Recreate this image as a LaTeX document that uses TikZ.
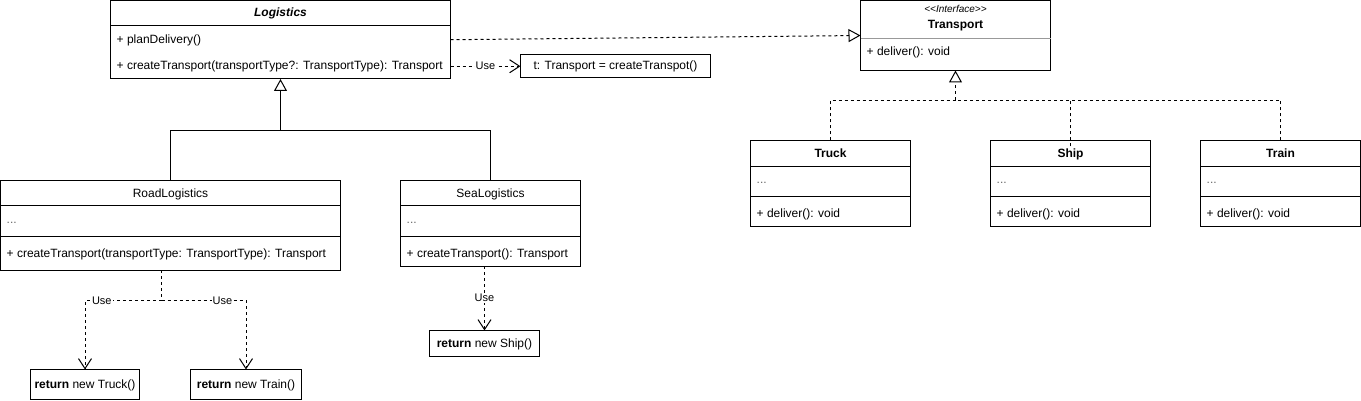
\documentclass[tikz,border=0pt]{standalone}
\usepackage{fontspec}
\setmainfont{Liberation Sans}
\usetikzlibrary{arrows.meta,calc}
\begin{document}
\begin{tikzpicture}[x=1pt,y=-1pt,
  cls/.style={draw, line width=1pt, inner sep=0pt, outer sep=0pt, anchor=north west},
  mem/.style={inner sep=0pt, anchor=base west, font=\fontsize{12}{14}\selectfont},
  ttl/.style={inner sep=0pt, anchor=base, font=\fontsize{12}{14}\selectfont},
  sep/.style={line width=1pt},
  dsh/.style={line width=1pt, dash pattern=on 3pt off 3pt},
  inh/.style={line width=1pt, -{Triangle[open, length=12pt, width=13pt]}},
  real/.style={dsh, -{Triangle[open, length=12pt, width=13pt]}},
  usearr/.style={dsh, -{Straight Barb[length=10pt, width=13pt]}},
  lbl/.style={fill=white, inner sep=1pt, font=\fontsize{11}{13}\selectfont},
  dots/.style={mem, text=black!60}
]
\useasboundingbox (0,0) rectangle (1361,401);

% ---- Logistics
\node[cls, minimum width=340pt, minimum height=78.5pt] (log) at (110.5,0.5) {};
\draw[sep] (log.west |- 0,26) -- (log.east |- 0,26);
\node[ttl, font=\fontsize{12}{14}\selectfont\bfseries\itshape] (logt) at (280.5,17) {Logistics};
\node[mem] (logm1) at (116.5,44) {+ planDelivery()};
\node[mem] (logm2) at (116.5,70) {+ createTransport(transportType?: TransportType): Transport};

% ---- Transport interface
\node[cls, minimum width=190pt, minimum height=70pt] (tr) at (860.5,0.5) {};
\draw[line width=1pt, black!40] (tr.west |- 0,39) -- (tr.east |- 0,39);
\node[ttl, font=\fontsize{10}{12}\selectfont\itshape] (trs) at (955.5,12.5) {{<}{<}Interface{>}{>}};
\node[ttl, font=\fontsize{12}{14}\selectfont\bfseries] (trt) at (955.5,29) {Transport};
\node[mem] (trm) at (866.5,56) {+ deliver(): void};

% ---- t box
\node[cls, minimum width=190pt, minimum height=23.5pt] (tb) at (520.5,54.5) {};
\node[ttl] (tbt) at (tb.center |- 0,70) {t: Transport = createTranspot()};

% ---- RoadLogistics
\node[cls, minimum width=340pt, minimum height=89.5pt] (road) at (0.5,180.5) {};
\draw[sep] (road.west |- 0,206) -- (road.east |- 0,206);
\draw[sep] (road.west |- 0,236.5) -- (road.east |- 0,236.5);
\node[ttl] (roadt) at (170.5,197) {RoadLogistics};
\node[dots] (roadd) at (6.5,223) {...};
\node[mem] (roadm) at (6.5,257) {+ createTransport(transportType: TransportType): Transport};

% ---- SeaLogistics
\node[cls, minimum width=180pt, minimum height=85.5pt] (sea) at (400.5,180.5) {};
\draw[sep] (sea.west |- 0,206) -- (sea.east |- 0,206);
\draw[sep] (sea.west |- 0,236.5) -- (sea.east |- 0,236.5);
\node[ttl] (seat) at (490.5,197) {SeaLogistics};
\node[dots] (sead) at (406.5,223) {...};
\node[mem] (seam) at (406.5,257) {+ createTransport(): Transport};

% ---- Truck / Ship / Train
\node[cls, minimum width=160pt, minimum height=86pt] (truck) at (750.5,140.5) {};
\node[cls, minimum width=160pt, minimum height=86pt] (ship) at (990.5,140.5) {};
\node[cls, minimum width=160pt, minimum height=86pt] (train) at (1200.5,140.5) {};
\foreach \b in {truck,ship,train}{
  \draw[sep] (\b.west |- 0,167) -- (\b.east |- 0,167);
  \draw[sep] (\b.west |- 0,196.5) -- (\b.east |- 0,196.5);
}
\node[ttl, font=\fontsize{12}{14}\selectfont\bfseries] (truckt) at (830.5,157.5) {Truck};
\node[ttl, font=\fontsize{12}{14}\selectfont\bfseries] (shipt) at (1070.5,157.5) {Ship};
\node[ttl, font=\fontsize{12}{14}\selectfont\bfseries] (traint) at (1280.5,157.5) {Train};
\node[dots] (truckd) at (756.5,184) {...};
\node[dots] (shipd) at (996.5,184) {...};
\node[dots] (traind) at (1206.5,184) {...};
\node[mem] (truckm) at (756.5,217.5) {+ deliver(): void};
\node[mem] (shipm) at (996.5,217.5) {+ deliver(): void};
\node[mem] (trainm) at (1206.5,217.5) {+ deliver(): void};

% ---- return boxes
\node[cls, minimum width=109pt, minimum height=30pt] (rtk) at (30.5,369.5) {};
\node[ttl] (rtkt) at (rtk.center |- 0,388.5) {\textbf{return} new Truck()};
\node[cls, minimum width=111pt, minimum height=30pt] (rtn) at (190.5,369.5) {};
\node[ttl] (rtnt) at (rtn.center |- 0,388.5) {\textbf{return} new Train()};
\node[cls, minimum width=110pt, minimum height=26pt] (rsh) at (429.5,330.5) {};
\node[ttl] (rsht) at (rsh.center |- 0,347.5) {\textbf{return} new Ship()};

% ---- connectors
% realization Logistics -> Transport
\draw[real] (log.east) -- (tr.west);
% use -> t box
\draw[usearr] (log.east |- tb.west) -- node[lbl]{Use} (tb.west);

% generalization
\coordinate (gj) at (log.south |- 0,131);
\draw[inh] (gj) -- (log.south);
\draw[line width=1pt] (road.north) |- (gj);
\draw[line width=1pt] (sea.north) |- (gj);

% interface realization
\coordinate (rj) at (tr.south |- 0,100.5);
\draw[real] ($(rj)+(0,-0.5)$) -- (tr.south);
\draw[dsh] (truck.north) |- (rj);
\draw[dsh] (train.north) |- (rj);
\draw[dsh] ($(ship.north)+(0,6)$) |- (rj);

% road uses
\coordinate (rs) at ($(road.south)+(-9,0)$);
\coordinate (ru) at (rs |- 0,300.5);
\draw[dsh] (rs) -- (ru);
\draw[usearr] (ru) -| node[lbl, pos=0.39]{Use} (rtk.north);
\draw[usearr] (ru) -| node[lbl, pos=0.36]{Use} (rtn.north);

% sea use
\draw[usearr] (sea.south -| rsh.north) -- node[lbl]{Use} (rsh.north);
\end{tikzpicture}
\end{document}
